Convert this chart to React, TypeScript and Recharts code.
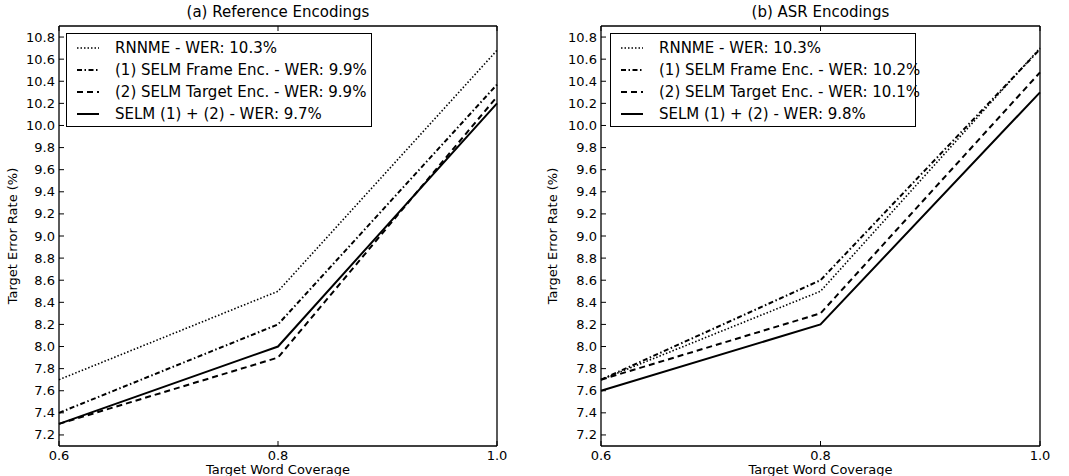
import React from "react";
import { LineChart, Line, XAxis, YAxis } from "recharts";

const coverage = [0.6, 0.8, 1.0];
const xTicks = [0.6, 0.8, 1.0];
const yTicks = [7.2, 7.4, 7.6, 7.8, 8.0, 8.2, 8.4, 8.6, 8.8, 9.0, 9.2, 9.4, 9.6, 9.8, 10.0, 10.2, 10.4, 10.6, 10.8];

// (a) reference encodings
const refRnnme = [7.7, 8.5, 10.68];
const refFrame = [7.4, 8.2, 10.37];
const refTarget = [7.3, 7.9, 10.26];
const refSelm = [7.3, 8.0, 10.2];
const refLabels = [
  "RNNME - WER: 10.3%",
  "(1) SELM Frame Enc. - WER: 9.9%",
  "(2) SELM Target Enc. - WER: 9.9%",
  "SELM (1) + (2) - WER: 9.7%",
];

// (b) ASR encodings
const asrRnnme = [7.7, 8.5, 10.7];
const asrFrame = [7.7, 8.6, 10.69];
const asrTarget = [7.7, 8.3, 10.48];
const asrSelm = [7.6, 8.2, 10.3];
const asrLabels = [
  "RNNME - WER: 10.3%",
  "(1) SELM Frame Enc. - WER: 10.2%",
  "(2) SELM Target Enc. - WER: 10.1%",
  "SELM (1) + (2) - WER: 9.8%",
];

const FONT = "'DejaVu Sans', sans-serif";

const seriesStyle = [
  { key: "rnnme", dash: "1.5 2", width: 1.6 },
  { key: "frame", dash: "5 2.5 1.5 2.5", width: 2 },
  { key: "target", dash: "6 4", width: 2 },
  { key: "selm", dash: undefined as string | undefined, width: 2 },
];

function buildRows(a: number[], b: number[], c: number[], d: number[]) {
  return coverage.map((x, i) => ({ x, rnnme: a[i], frame: b[i], target: c[i], selm: d[i] }));
}

const LeftTick = (p: any) => (
  <g>
    <line x1={p.x + 4} x2={p.x + 9} y1={p.y} y2={p.y} stroke="#000" strokeWidth={1} />
    <text x={p.x} y={p.y} dy="0.35em" textAnchor="end" fontSize={13} fontFamily={FONT} fill="#000">
      {Number(p.payload.value).toFixed(1)}
    </text>
  </g>
);
const RightTick = (p: any) => (
  <line x1={p.x} x2={p.x - 5} y1={p.y} y2={p.y} stroke="#000" strokeWidth={1} />
);
const BottomTick = (p: any) => (
  <g>
    <line x1={p.x} x2={p.x} y1={p.y - 5} y2={p.y - 10} stroke="#000" strokeWidth={1} />
    <text x={p.x} y={p.y} dy="0.71em" textAnchor="middle" fontSize={13} fontFamily={FONT} fill="#000">
      {Number(p.payload.value).toFixed(1)}
    </text>
  </g>
);
const TopTick = (p: any) => (
  <line x1={p.x} x2={p.x} y1={p.y} y2={p.y + 5} stroke="#000" strokeWidth={1} />
);

function Panel(props: {
  left: number; width: number; yw: number; rightPad: number;
  title: string; labels: string[]; rows: any[]; legendLeft: number;
}) {
  const { left, width, yw, rightPad, title, labels, rows, legendLeft } = props;
  const plotL = yw + 8;
  const plotR = width - rightPad - 10;
  const mid = (plotL + plotR) / 2;
  return (
    <div style={{ position: "absolute", left, top: 0, width, height: 476, fontFamily: FONT }}>
      <LineChart width={width} height={476} data={rows} margin={{ top: 20, right: rightPad, bottom: 6, left: 8 }}>
        <XAxis xAxisId="b" dataKey="x" type="number" domain={[0.6, 1.0]} ticks={xTicks} height={24}
          tickSize={0} tickMargin={5} tick={<BottomTick />} axisLine={{ stroke: "#000", strokeWidth: 1.3 }} />
        <XAxis xAxisId="t" orientation="top" dataKey="x" type="number" domain={[0.6, 1.0]} ticks={xTicks} height={6}
          tickSize={0} tickMargin={0} tick={<TopTick />} axisLine={{ stroke: "#000", strokeWidth: 1.3 }} />
        <YAxis yAxisId="l" type="number" domain={[7.1, 10.9]} ticks={yTicks} width={yw} interval={0}
          tickSize={0} tickMargin={4} tick={<LeftTick />} axisLine={{ stroke: "#000", strokeWidth: 1.3 }} />
        <YAxis yAxisId="r" orientation="right" type="number" domain={[7.1, 10.9]} ticks={yTicks} width={10} interval={0}
          tickSize={0} tickMargin={0} tick={<RightTick />} axisLine={{ stroke: "#000", strokeWidth: 1.3 }} />
        {seriesStyle.map((s) => (
          <Line key={s.key} xAxisId="b" yAxisId="l" type="linear" dataKey={s.key} stroke="#000"
            strokeWidth={s.width} strokeDasharray={s.dash} dot={false} isAnimationActive={false} />
        ))}
      </LineChart>
      <div style={{ position: "absolute", left: mid - 200, width: 400, top: 3, textAlign: "center", fontSize: 15, lineHeight: "18px" }}>
        {title}
      </div>
      <div style={{ position: "absolute", left: 0, top: 0, width: 476, height: 20, transformOrigin: "0 0",
        transform: "translate(3px, 474px) rotate(-90deg)", textAlign: "center", fontSize: 13, lineHeight: "20px" }}>
        <span style={{ position: "absolute", left: 474 - 446, width: 420, textAlign: "center" }}>Target Error Rate (%)</span>
      </div>
      <div style={{ position: "absolute", left: mid - 150, width: 300, top: 462, textAlign: "center", fontSize: 13, lineHeight: "16px" }}>
        Target Word Coverage
      </div>
      <div style={{ position: "absolute", left: legendLeft, top: 33, width: 304, height: 92, border: "1px solid #000", background: "#fff" }}>
        {labels.map((lab, i) => (
          <div key={i} style={{ position: "absolute", left: 0, top: 3 + i * 22, height: 22, display: "flex", alignItems: "center" }}>
            <svg width={40} height={22} style={{ display: "block" }}>
              <line x1={10} x2={32} y1={11} y2={11} stroke="#000" strokeWidth={seriesStyle[i].width}
                strokeDasharray={seriesStyle[i].dash} />
            </svg>
            <span style={{ marginLeft: 8, fontSize: 15, whiteSpace: "nowrap" }}>{lab}</span>
          </div>
        ))}
      </div>
    </div>
  );
}

export default function App() {
  return (
    <div style={{ position: "absolute", left: 0, top: 0, width: 1069, height: 476, background: "#fff" }}>
      <Panel left={0} width={540} yw={51} rightPad={33} title="(a) Reference Encodings"
        labels={refLabels} rows={buildRows(refRnnme, refFrame, refTarget, refSelm)} legendLeft={66} />
      <Panel left={540} width={529} yw={53} rightPad={19} title="(b) ASR Encodings"
        labels={asrLabels} rows={buildRows(asrRnnme, asrFrame, asrTarget, asrSelm)} legendLeft={70} />
    </div>
  );
}
